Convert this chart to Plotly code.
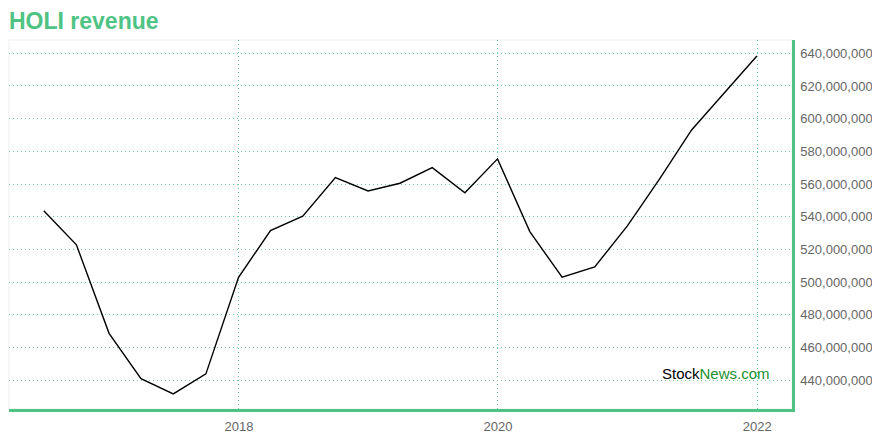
import plotly.graph_objects as go

dates = ["2016-06-30", "2016-09-30", "2016-12-31", "2017-03-31", "2017-06-30", "2017-09-30",
         "2017-12-31", "2018-03-31", "2018-06-30", "2018-09-30", "2018-12-31", "2019-03-31",
         "2019-06-30", "2019-09-30", "2019-12-31", "2020-03-31", "2020-06-30", "2020-09-30",
         "2020-12-31", "2021-03-31", "2021-06-30", "2021-09-30", "2021-12-31"]
revenue_m = [543.7, 522.8, 468.7, 441.0, 431.6, 443.9,
             503.0, 531.5, 540.3, 563.9, 555.8, 560.5,
             570.0, 554.7, 575.4, 530.9, 503.0, 509.3,
             534.4, 562.9, 593.1, 615.7, 638.3]
revenue = [v * 1e6 for v in revenue_m]
x_ticks = ["2018-01-01", "2020-01-01", "2022-01-01"]
x_tick_labels = ["2018", "2020", "2022"]
y_ticks = [440e6 + 20e6 * i for i in range(11)]

GREEN = "#4fc384"
GRID = "#6fcf99"

fig = go.Figure()
fig.add_trace(go.Scatter(x=dates, y=revenue, mode="lines",
                         line=dict(color="#000000", width=1.4), hoverinfo="skip"))

fig.update_layout(
    width=872, height=432,
    margin=dict(l=1, r=88, t=32, b=31),
    paper_bgcolor="white", plot_bgcolor="white",
    showlegend=False,
    font=dict(family="Liberation Sans, Arial, sans-serif", color="#666666", size=13),
    title=dict(text="<b>HOLI revenue</b>", x=0, xref="paper", xanchor="left",
               y=1 - 13 / 432, yanchor="middle", yref="container",
               font=dict(size=23, color=GREEN, family="Liberation Sans, Arial, sans-serif")),
    xaxis=dict(type="date", range=["2016-03-24", "2022-04-09"],
               tickvals=x_ticks, ticktext=x_tick_labels,
               showgrid=True, gridcolor=GRID, griddash="1px,3px", gridwidth=1,
               showline=True, linecolor=GREEN, linewidth=2.5,
               ticks="", ticklen=0, zeroline=False, ticklabelstandoff=4,
               tickfont=dict(size=13, color="#666666")),
    yaxis=dict(side="right", range=[422.4e6, 648.1e6],
               tickvals=y_ticks, tickformat=",d",
               showgrid=True, gridcolor=GRID, griddash="1px,3px", gridwidth=1,
               showline=True, linecolor=GREEN, linewidth=2.5,
               ticks="", zeroline=False, ticklabelstandoff=3,
               tickfont=dict(size=13, color="#666666")),
    shapes=[dict(type="rect", xref="paper", yref="paper", x0=0, x1=1, y0=0, y1=1,
                 line=dict(color="#eeeeee", width=1), layer="below")],
    annotations=[dict(text="Stock<span style='color:#1a8f2e'>News.com</span>",
                      xref="paper", yref="paper", x=0.975, y=0.095,
                      xanchor="right", yanchor="middle", showarrow=False,
                      font=dict(size=15, color="#000000",
                                family="Liberation Sans, Arial, sans-serif"))],
)

fig.write_html("out.html")
